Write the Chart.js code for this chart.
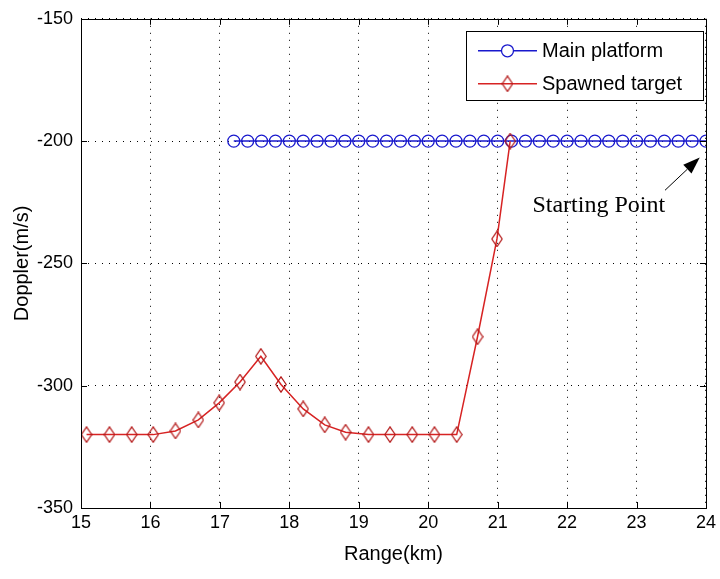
<!DOCTYPE html>
<html>
<head>
<meta charset="utf-8">
<script src="https://cdn.jsdelivr.net/npm/chart.js@4.4.1/dist/chart.umd.min.js"></script>
<style>
  html, body { margin: 0; padding: 0; background: #fff; }
  #plot { display: block; }
</style>
</head>
<body>
<canvas id="plot" width="720" height="579"></canvas>
<script>
// ---- data ----
const seriesNames = ['Main platform', 'Spawned target'];
const xTickValues = [15, 16, 17, 18, 19, 20, 21, 22, 23, 24];
const yTickValues = [-350, -300, -250, -200, -150];

// Main platform track (range in km, Doppler in m/s)
const mainRange = [17.2, 17.4, 17.6, 17.8, 18.0, 18.2, 18.4, 18.6, 18.8, 19.0,
                   19.2, 19.4, 19.6, 19.8, 20.0, 20.2, 20.4, 20.6, 20.8, 21.0,
                   21.2, 21.4, 21.6, 21.8, 22.0, 22.2, 22.4, 22.6, 22.8, 23.0,
                   23.2, 23.4, 23.6, 23.8, 24.0];
const mainDoppler = [-200, -200, -200, -200, -200, -200, -200, -200, -200, -200,
                     -200, -200, -200, -200, -200, -200, -200, -200, -200, -200,
                     -200, -200, -200, -200, -200, -200, -200, -200, -200, -200,
                     -200, -200, -200, -200, -200];

// Spawned target track
const spawnRange = [15.08, 15.41, 15.73, 16.04, 16.36, 16.69, 16.99, 17.29, 17.59, 17.88,
                    18.20, 18.51, 18.81, 19.14, 19.45, 19.77, 20.09, 20.41, 20.71, 20.99,
                    21.18];
const spawnDoppler = [-320, -320, -320, -320, -318.5, -314, -307, -298.5, -288, -299.5,
                      -309.5, -316, -319, -320, -320, -320, -320, -320, -280, -240,
                      -200];

// "Starting Point" callout, in axis units
const calloutText = 'Starting Point';
const calloutTextAt = { x: 21.5, y: -229 };
const calloutArrowFrom = { x: 23.41, y: -220.1 };
const calloutArrowTo = { x: 23.91, y: -206.7 };

// ---- styles ----
const BLUE = 'rgb(25,25,205)';
const RED_LINE = 'rgb(215,35,35)';
const RED_MARK = 'rgb(180,25,25)';
const SANS = '"Liberation Sans", Arial, Helvetica, sans-serif';
const SERIF = '"Liberation Serif", "Times New Roman", serif';

// tall diamond marker
function makeDiamond(w, h, color) {
  const c = document.createElement('canvas');
  c.width = w; c.height = h;
  const g = c.getContext('2d');
  g.strokeStyle = color;
  g.lineWidth = 1.2;
  g.beginPath();
  g.moveTo(w / 2, 0.8);
  g.lineTo(w - 0.8, h / 2);
  g.lineTo(w / 2, h - 0.8);
  g.lineTo(0.8, h / 2);
  g.closePath();
  g.stroke();
  return c;
}
const diamond = makeDiamond(12, 17, RED_MARK);

const toPoints = (xs, ys) => xs.map((x, i) => ({ x: x, y: ys[i] }));

// axis box with inward tick marks, drawn over the plot
const boxPlugin = {
  id: 'box',
  afterDatasetsDraw(chart) {
    const { ctx, chartArea: a, scales } = chart;
    ctx.save();
    ctx.strokeStyle = '#000';
    ctx.lineWidth = 1;
    ctx.setLineDash([]);
    ctx.strokeRect(Math.round(a.left) + 0.5, Math.round(a.top) + 0.5,
                   Math.round(a.right - a.left), Math.round(a.bottom - a.top));
    const tl = 6;
    ctx.beginPath();
    xTickValues.forEach(v => {
      const px = Math.round(scales.x.getPixelForValue(v)) + 0.5;
      ctx.moveTo(px, a.bottom); ctx.lineTo(px, a.bottom - tl);
      ctx.moveTo(px, a.top); ctx.lineTo(px, a.top + tl);
    });
    yTickValues.forEach(v => {
      const py = Math.round(scales.y.getPixelForValue(v)) + 0.5;
      ctx.moveTo(a.left, py); ctx.lineTo(a.left + tl, py);
      ctx.moveTo(a.right, py); ctx.lineTo(a.right - tl, py);
    });
    ctx.stroke();
    ctx.restore();
  }
};

// boxed legend in the upper right corner
const legendPlugin = {
  id: 'boxLegend',
  afterDraw(chart) {
    const { ctx, chartArea: a } = chart;
    const right = a.right - 3, left = right - 237;
    const top = a.top + 12, bottom = top + 69;
    ctx.save();
    ctx.fillStyle = '#fff';
    ctx.fillRect(left, top, right - left, bottom - top);
    ctx.strokeStyle = '#000';
    ctx.lineWidth = 1;
    ctx.strokeRect(Math.round(left) + 0.5, Math.round(top) + 0.5,
                   Math.round(right - left), Math.round(bottom - top));
    const rows = [top + 20, top + 53];
    chart.data.datasets.forEach((ds, i) => {
      const y = rows[i];
      const x0 = left + 12, x1 = left + 71, xm = (x0 + x1) / 2;
      ctx.strokeStyle = ds.borderColor;
      ctx.lineWidth = 1.5;
      ctx.beginPath();
      ctx.moveTo(x0, y); ctx.lineTo(x1, y);
      ctx.stroke();
      if (ds.pointStyle === 'circle') {
        ctx.lineWidth = 1.3;
        ctx.beginPath();
        ctx.arc(xm, y, 6, 0, Math.PI * 2);
        ctx.fillStyle = '#fff';
        ctx.fill();
        ctx.strokeStyle = ds.pointBorderColor;
        ctx.stroke();
      } else {
        ctx.drawImage(diamond, xm - diamond.width / 2, y - diamond.height / 2);
      }
      ctx.fillStyle = '#000';
      ctx.font = '20px ' + SANS;
      ctx.textBaseline = 'middle';
      ctx.textAlign = 'left';
      ctx.fillText(ds.label, left + 76, y + 1);
    });
    ctx.restore();
  }
};

// text and arrow pointing at the first point of the main track
const calloutPlugin = {
  id: 'callout',
  afterDraw(chart) {
    const { ctx, scales } = chart;
    const px = p => ({ x: scales.x.getPixelForValue(p.x), y: scales.y.getPixelForValue(p.y) });
    const t = px(calloutTextAt), f = px(calloutArrowFrom), e = px(calloutArrowTo);
    ctx.save();
    ctx.fillStyle = '#000';
    ctx.font = '24px ' + SERIF;
    ctx.textAlign = 'left';
    ctx.textBaseline = 'alphabetic';
    ctx.fillText(calloutText, t.x, t.y);
    const ang = Math.atan2(e.y - f.y, e.x - f.x);
    const hl = 17, hw = 6;
    const bx = e.x - hl * Math.cos(ang), by = e.y - hl * Math.sin(ang);
    ctx.strokeStyle = '#000';
    ctx.lineWidth = 1;
    ctx.beginPath();
    ctx.moveTo(f.x, f.y); ctx.lineTo(bx, by);
    ctx.stroke();
    ctx.beginPath();
    ctx.moveTo(e.x, e.y);
    ctx.lineTo(bx + hw * Math.sin(ang), by - hw * Math.cos(ang));
    ctx.lineTo(bx - hw * Math.sin(ang), by + hw * Math.cos(ang));
    ctx.closePath();
    ctx.fill();
    ctx.restore();
  }
};

const tickFont = { family: SANS, size: 18 };
const titleFont = { family: SANS, size: 20 };

new Chart(document.getElementById('plot'), {
  type: 'scatter',
  data: {
    datasets: [
      {
        label: seriesNames[0],
        data: toPoints(mainRange, mainDoppler),
        showLine: true,
        borderColor: BLUE,
        borderWidth: 1.5,
        pointStyle: 'circle',
        pointRadius: 6,
        pointBorderWidth: 1.3,
        pointBorderColor: BLUE,
        pointBackgroundColor: 'rgba(255,255,255,0)',
        order: 2
      },
      {
        label: seriesNames[1],
        data: toPoints(spawnRange, spawnDoppler),
        showLine: true,
        borderColor: RED_LINE,
        borderWidth: 1.5,
        pointStyle: diamond,
        pointRadius: 8,
        pointBorderColor: RED_MARK,
        order: 1
      }
    ]
  },
  options: {
    responsive: false,
    animation: false,
    devicePixelRatio: 1,
    layout: { padding: { top: 15, right: 12, left: 0, bottom: 0 } },
    plugins: { legend: { display: false }, tooltip: { enabled: false } },
    scales: {
      x: {
        type: 'linear',
        min: 15, max: 24,
        afterBuildTicks: s => { s.ticks = xTickValues.map(v => ({ value: v })); },
        afterFit: s => { s.height = 71; },
        ticks: { font: tickFont, color: '#000', padding: 4, maxRotation: 0, autoSkip: false },
        grid: { color: '#000', lineWidth: 1, drawTicks: false },
        border: { display: false, dash: [1, 6] },
        title: { display: true, text: 'Range(km)', font: titleFont, color: '#000',
                 padding: { top: 0, bottom: 13 } }
      },
      y: {
        type: 'linear',
        min: -350, max: -150,
        afterBuildTicks: s => { s.ticks = yTickValues.map(v => ({ value: v })); },
        afterFit: s => { s.width = 81; },
        ticks: { font: tickFont, color: '#000', padding: 8, autoSkip: false },
        grid: { color: '#000', lineWidth: 1, drawTicks: false },
        border: { display: false, dash: [1, 6] },
        title: { display: true, text: 'Doppler(m/s)', font: titleFont, color: '#000',
                 padding: { top: 10, bottom: 0 } }
      }
    }
  },
  plugins: [boxPlugin, legendPlugin, calloutPlugin]
});
</script>
</body>
</html>
